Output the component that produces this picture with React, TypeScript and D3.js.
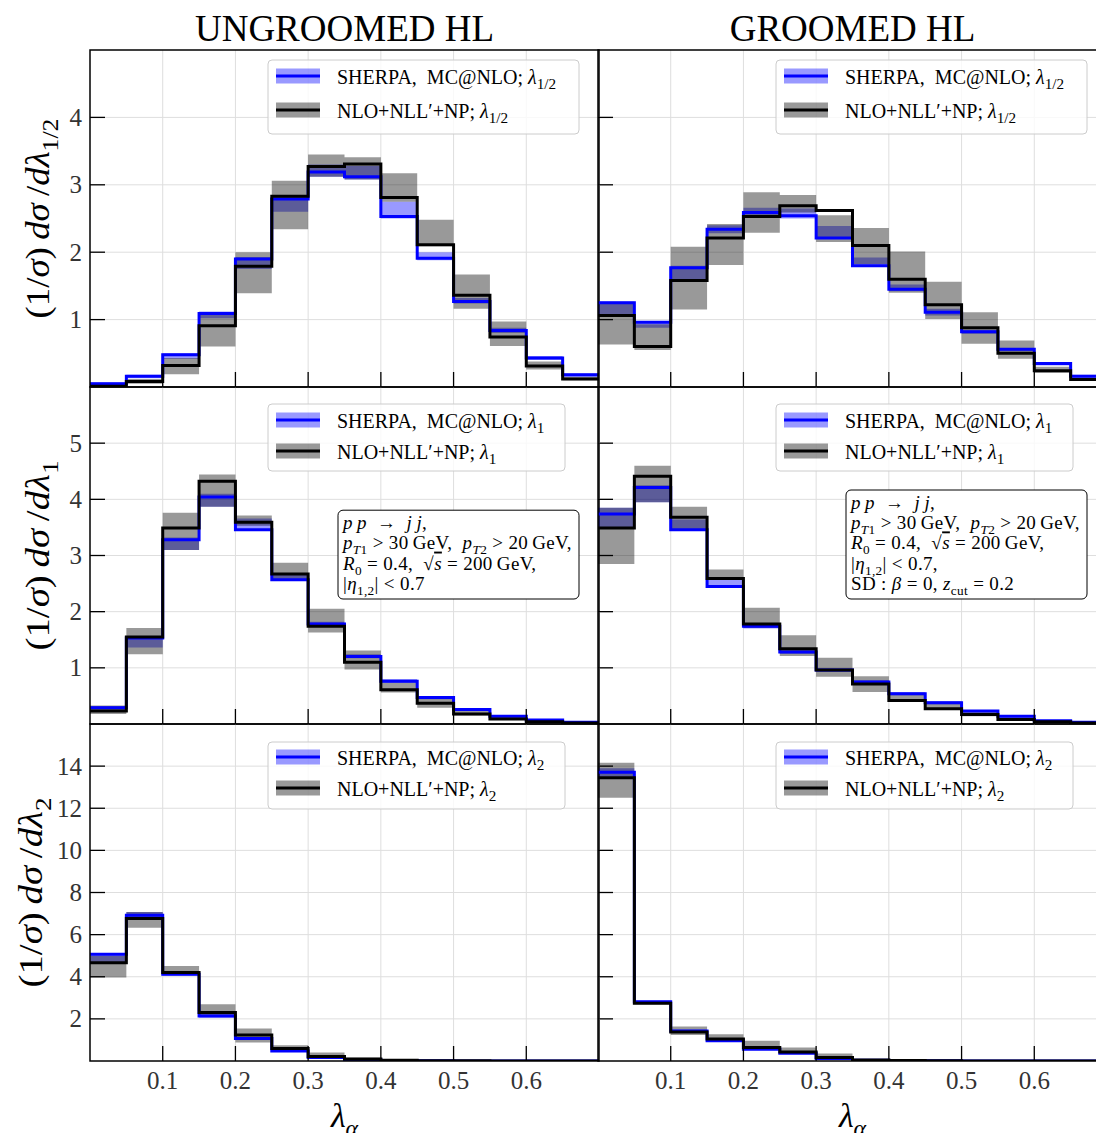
import React from 'react';
import * as d3 from 'd3';

// ---------- data ----------
const binEdges = [0, 0.05, 0.1, 0.15, 0.2, 0.25, 0.3, 0.35, 0.4, 0.45, 0.5, 0.55, 0.6, 0.65, 0.7];
const xTickValues = [0.1, 0.2, 0.3, 0.4, 0.5, 0.6];
const xTickLabels = ['0.1', '0.2', '0.3', '0.4', '0.5', '0.6'];
const columnTitles = ['UNGROOMED HL', 'GROOMED HL'];
const angleSubs = ['1/2', '1', '2'];
const yMaxByRow = [5, 6, 16];
const yTicksHalf = [1, 2, 3, 4];
const yTicksOne = [1, 2, 3, 4, 5];
const yTicksTwo = [2, 4, 6, 8, 10, 12, 14];

// Ungroomed, lambda 1/2
const ugHalfMc = [0.05, 0.16, 0.48, 1.09, 1.9, 2.79, 3.19, 3.12, 2.53, 1.91, 1.27, 0.84, 0.43, 0.18];
const ugHalfMcLo = [0.03, 0.13, 0.42, 1.02, 1.75, 2.6, 3.12, 3.08, 2.5, 1.88, 1.24, 0.8, 0.4, 0.15];
const ugHalfMcHi = [0.07, 0.18, 0.5, 1.12, 1.93, 2.82, 3.3, 3.28, 2.75, 2.0, 1.32, 0.88, 0.46, 0.2];
const ugHalfNll = [0.01, 0.08, 0.32, 0.91, 1.79, 2.83, 3.27, 3.31, 2.81, 2.11, 1.36, 0.74, 0.31, 0.12];
const ugHalfNllLo = [0.0, 0.05, 0.19, 0.6, 1.39, 2.34, 3.12, 3.08, 2.75, 2.09, 1.16, 0.61, 0.26, 0.1];
const ugHalfNllHi = [0.03, 0.12, 0.43, 1.07, 2.0, 3.06, 3.45, 3.41, 3.17, 2.48, 1.67, 0.97, 0.38, 0.15];

// Groomed, lambda 1/2
const gHalfMc = [1.25, 0.96, 1.77, 2.34, 2.59, 2.54, 2.21, 1.8, 1.45, 1.11, 0.82, 0.56, 0.35, 0.16];
const gHalfMcLo = [1.06, 0.88, 1.6, 2.28, 2.52, 2.5, 2.21, 1.8, 1.42, 1.06, 0.79, 0.53, 0.32, 0.14];
const gHalfMcHi = [1.27, 0.98, 1.8, 2.4, 2.66, 2.65, 2.39, 1.92, 1.52, 1.16, 0.85, 0.58, 0.37, 0.18];
const gHalfNll = [1.06, 0.6, 1.58, 2.21, 2.53, 2.69, 2.62, 2.1, 1.6, 1.22, 0.88, 0.5, 0.24, 0.11];
const gHalfNllLo = [0.63, 0.55, 1.15, 1.81, 2.29, 2.59, 2.15, 1.82, 1.4, 1.01, 0.64, 0.42, 0.21, 0.09];
const gHalfNllHi = [1.24, 0.93, 2.08, 2.42, 2.89, 2.85, 2.55, 2.36, 2.01, 1.56, 1.11, 0.69, 0.3, 0.14];

// Ungroomed, lambda 1
const ugOneMc = [0.29, 1.53, 3.28, 4.04, 3.46, 2.57, 1.78, 1.2, 0.76, 0.47, 0.26, 0.14, 0.07, 0.03];
const ugOneMcLo = [0.26, 1.36, 3.1, 3.87, 3.46, 2.55, 1.74, 1.17, 0.73, 0.44, 0.24, 0.12, 0.06, 0.02];
const ugOneMcHi = [0.32, 1.56, 3.32, 4.1, 3.66, 2.67, 1.82, 1.24, 0.8, 0.5, 0.28, 0.16, 0.08, 0.04];
const ugOneNll = [0.23, 1.55, 3.49, 4.32, 3.59, 2.67, 1.74, 1.1, 0.61, 0.37, 0.18, 0.09, 0.04, 0.02];
const ugOneNllLo = [0.18, 1.24, 3.1, 3.87, 3.53, 2.57, 1.63, 0.97, 0.56, 0.29, 0.15, 0.07, 0.03, 0.01];
const ugOneNllHi = [0.33, 1.71, 3.76, 4.44, 3.71, 2.87, 2.05, 1.31, 0.74, 0.47, 0.27, 0.14, 0.06, 0.03];

// Groomed, lambda 1
const gOneMc = [3.74, 4.21, 3.46, 2.45, 1.74, 1.28, 0.96, 0.75, 0.54, 0.38, 0.23, 0.14, 0.06, 0.03];
const gOneMcLo = [3.5, 3.95, 3.46, 2.45, 1.7, 1.25, 0.93, 0.72, 0.51, 0.35, 0.21, 0.12, 0.05, 0.02];
const gOneMcHi = [3.85, 4.25, 3.64, 2.6, 1.78, 1.32, 0.99, 0.78, 0.57, 0.41, 0.25, 0.16, 0.07, 0.04];
const gOneNll = [3.49, 4.41, 3.68, 2.59, 1.78, 1.34, 0.96, 0.71, 0.42, 0.27, 0.17, 0.08, 0.04, 0.02];
const gOneNllLo = [2.85, 3.95, 3.46, 2.57, 1.71, 1.21, 0.84, 0.57, 0.39, 0.25, 0.14, 0.07, 0.03, 0.01];
const gOneNllHi = [3.85, 4.6, 3.87, 2.75, 2.07, 1.58, 1.18, 0.85, 0.53, 0.37, 0.22, 0.12, 0.05, 0.03];

// Ungroomed, lambda 2
const ugTwoMc = [5.07, 6.92, 4.12, 2.14, 1.07, 0.48, 0.17, 0.06, 0.02, 0.01, 0.0, 0.0, 0.0, 0.0];
const ugTwoMcLo = [4.67, 6.75, 4.05, 2.05, 1.0, 0.44, 0.15, 0.05, 0.01, 0.0, 0.0, 0.0, 0.0, 0.0];
const ugTwoMcHi = [5.12, 7.07, 4.22, 2.24, 1.12, 0.52, 0.19, 0.07, 0.03, 0.01, 0.0, 0.0, 0.0, 0.0];
const ugTwoNll = [4.67, 6.76, 4.2, 2.3, 1.23, 0.59, 0.21, 0.09, 0.03, 0.01, 0.01, 0.0, 0.0, 0.0];
const ugTwoNllLo = [3.96, 6.33, 4.12, 2.14, 0.88, 0.43, 0.12, 0.05, 0.02, 0.0, 0.0, 0.0, 0.0, 0.0];
const ugTwoNllHi = [5.0, 7.07, 4.51, 2.7, 1.54, 0.75, 0.4, 0.15, 0.05, 0.02, 0.01, 0.0, 0.0, 0.0];

// Groomed, lambda 2
const gTwoMc = [13.71, 2.81, 1.43, 0.96, 0.56, 0.37, 0.12, 0.03, 0.01, 0.01, 0.0, 0.0, 0.0, 0.0];
const gTwoMcLo = [13.5, 2.75, 1.38, 0.92, 0.52, 0.34, 0.1, 0.02, 0.0, 0.0, 0.0, 0.0, 0.0, 0.0];
const gTwoMcHi = [13.9, 2.86, 1.48, 1.0, 0.6, 0.4, 0.14, 0.04, 0.02, 0.01, 0.0, 0.0, 0.0, 0.0];
const gTwoNll = [13.45, 2.74, 1.38, 1.04, 0.64, 0.43, 0.17, 0.05, 0.02, 0.01, 0.0, 0.0, 0.0, 0.0];
const gTwoNllLo = [12.5, 2.7, 1.23, 0.96, 0.56, 0.37, 0.12, 0.03, 0.01, 0.0, 0.0, 0.0, 0.0, 0.0];
const gTwoNllHi = [14.16, 2.85, 1.64, 1.27, 0.96, 0.64, 0.36, 0.08, 0.03, 0.01, 0.0, 0.0, 0.0, 0.0];

// ---------- layout / style ----------
const W = 1096;
const H = 1133;
const SERIF = "'Liberation Serif', 'DejaVu Serif', serif";
const colX = [90, 598];
const rowY = [50, 387, 724];
const panelW = 509;
const panelH = 337;
const BLUE = '#0000ff';

type Seg = [string, string?];

function MathText({ x, y, segs, size, anchor, transform, dominant, textLength, lengthAdjust, letterSpacing, subRatio }: any) {
  const subShift = size * 0.26;
  const ratio = subRatio || 0.7;
  let prev = 0;
  return (
    <text
      x={x}
      y={y}
      fontSize={size}
      fontFamily={SERIF}
      textAnchor={anchor}
      transform={transform}
      dominantBaseline={dominant}
      textLength={textLength}
      lengthAdjust={lengthAdjust}
      letterSpacing={letterSpacing}
      fill="#000"
      style={{ whiteSpace: 'pre' }}
    >
      {segs.map((s: Seg, i: number) => {
        const t = s[0];
        const st = s[1] || '';
        const isSub = st.includes('s');
        const shift = isSub ? subShift : 0;
        const dy = shift - prev;
        prev = shift;
        return (
          <tspan
            key={i}
            dy={dy !== 0 ? dy : undefined}
            fontSize={isSub ? size * ratio : undefined}
            fontStyle={st.includes('i') ? 'italic' : undefined}
            textDecoration={st.includes('o') ? 'overline' : undefined}
          >
            {t}
          </tspan>
        );
      })}
    </text>
  );
}

const seriesByPanel = [
  [
    { mc: ugHalfMc, mcLo: ugHalfMcLo, mcHi: ugHalfMcHi, nll: ugHalfNll, nllLo: ugHalfNllLo, nllHi: ugHalfNllHi },
    { mc: gHalfMc, mcLo: gHalfMcLo, mcHi: gHalfMcHi, nll: gHalfNll, nllLo: gHalfNllLo, nllHi: gHalfNllHi },
  ],
  [
    { mc: ugOneMc, mcLo: ugOneMcLo, mcHi: ugOneMcHi, nll: ugOneNll, nllLo: ugOneNllLo, nllHi: ugOneNllHi },
    { mc: gOneMc, mcLo: gOneMcLo, mcHi: gOneMcHi, nll: gOneNll, nllLo: gOneNllLo, nllHi: gOneNllHi },
  ],
  [
    { mc: ugTwoMc, mcLo: ugTwoMcLo, mcHi: ugTwoMcHi, nll: ugTwoNll, nllLo: ugTwoNllLo, nllHi: ugTwoNllHi },
    { mc: gTwoMc, mcLo: gTwoMcLo, mcHi: gTwoMcHi, nll: gTwoNll, nllLo: gTwoNllLo, nllHi: gTwoNllHi },
  ],
];
const yTicksByRow = [yTicksHalf, yTicksOne, yTicksTwo];

// legend geometry per row (offsets from panel top)
const legendTop = [10, 17, 18];
const legendHeight = [74, 67, 67];
const legendWidth = [311, 297, 297];
const legendLine1 = [16, 16, 15];
const legendLine2 = [50, 47, 46];

const infoLeft: Seg[][] = [
  [['p\u2009p', 'i'], ['  \u2192  ', ''], ['j\u2009j', 'i'], [',', '']],
  [['p', 'i'], ['T', 'si'], ['1', 's'], [' > 30\u2009GeV,  ', ''], ['p', 'i'], ['T', 'si'], ['2', 's'], [' > 20\u2009GeV,', '']],
  [['R', 'i'], ['0', 's'], [' = 0.4,  \u221A', ''], ['s', 'io'], [' = 200\u2009GeV,', '']],
  [['|', ''], ['\u03B7', 'i'], ['1,2', 's'], ['| < 0.7', '']],
];
const infoRight: Seg[][] = [
  [['p\u2009p', 'i'], ['  \u2192  ', ''], ['j\u2009j', 'i'], [',', '']],
  [['p', 'i'], ['T', 'si'], ['1', 's'], [' > 30\u2009GeV,  ', ''], ['p', 'i'], ['T', 'si'], ['2', 's'], [' > 20\u2009GeV,', '']],
  [['R', 'i'], ['0', 's'], [' = 0.4,  \u221A', ''], ['s', 'io'], [' = 200\u2009GeV,', '']],
  [['|', ''], ['\u03B7', 'i'], ['1,2', 's'], ['| < 0.7,', '']],
  [['SD : ', ''], ['\u03B2', 'i'], [' = 0, ', ''], ['z', 'i'], ['cut', 's'], [' = 0.2', '']],
];

function stepPoints(vals: number[]) {
  const pts = vals.map((v, i) => [binEdges[i], v] as [number, number]);
  pts.push([binEdges[binEdges.length - 1], vals[vals.length - 1]]);
  return pts;
}

function Panel({ row, col }: { row: number; col: number }) {
  const x0 = colX[col];
  const y0 = rowY[row];
  const data = seriesByPanel[row][col];
  const yMax = yMaxByRow[row];
  const yTicks = yTicksByRow[row];
  const xs = d3.scaleLinear().domain([0, 0.7]).range([x0, x0 + panelW]);
  const ys = d3.scaleLinear().domain([0, yMax]).range([y0 + panelH, y0]);

  const line = d3
    .line<[number, number]>()
    .x((d) => xs(d[0]))
    .y((d) => ys(d[1]))
    .curve(d3.curveStepAfter);
  const band = (lo: number[], hi: number[]) => {
    const pts = lo.map((v, i) => ({ x: binEdges[i], lo: v, hi: hi[i] }));
    pts.push({ x: binEdges[binEdges.length - 1], lo: lo[lo.length - 1], hi: hi[hi.length - 1] });
    return d3
      .area<{ x: number; lo: number; hi: number }>()
      .x((d) => xs(d.x))
      .y0((d) => ys(d.lo))
      .y1((d) => ys(d.hi))
      .curve(d3.curveStepAfter)(pts) as string;
  };
  const clipId = `clip-${row}-${col}`;
  const sub = angleSubs[row];
  const lx = x0 + 178;
  const ly = y0 + legendTop[row];

  return (
    <g>
      <defs>
        <clipPath id={clipId}>
          <rect x={x0} y={y0} width={panelW} height={panelH} />
        </clipPath>
      </defs>
      {/* grid */}
      <g stroke="#dedede" strokeWidth={1}>
        {xTickValues.map((t) => (
          <line key={'gx' + t} x1={xs(t)} x2={xs(t)} y1={y0} y2={y0 + panelH} />
        ))}
        {yTicks.map((t) => (
          <line key={'gy' + t} x1={x0} x2={x0 + panelW} y1={ys(t)} y2={ys(t)} />
        ))}
      </g>
      <g clipPath={`url(#${clipId})`}>
        <path d={band(data.mcLo, data.mcHi)} fill={BLUE} fillOpacity={0.4} />
        <path d={band(data.nllLo, data.nllHi)} fill="#000" fillOpacity={0.4} />
        <path d={line(stepPoints(data.mc)) as string} fill="none" stroke={BLUE} strokeWidth={3} />
        <path d={line(stepPoints(data.nll)) as string} fill="none" stroke="#000" strokeWidth={3} />
      </g>
      {/* ticks */}
      <g stroke="#000" strokeWidth={1.3}>
        {xTickValues.map((t) => (
          <line key={'tx' + t} x1={xs(t)} x2={xs(t)} y1={y0 + panelH} y2={y0 + panelH - 15} />
        ))}
        {yTicks.map((t) => (
          <line key={'ty' + t} x1={x0} x2={x0 + 15} y1={ys(t)} y2={ys(t)} />
        ))}
      </g>
      <rect x={x0} y={y0} width={panelW} height={panelH} fill="none" stroke="#000" strokeWidth={1.5} />
      {/* tick labels */}
      {col === 0 &&
        yTicks.map((t) => (
          <text
            key={'ly' + t}
            x={x0 - 8}
            y={ys(t)}
            textAnchor="end"
            dominantBaseline="central"
            fontFamily={SERIF}
            fontSize={25}
            fill="#333"
          >
            {t}
          </text>
        ))}
      {row === 2 &&
        xTickValues.map((t, i) => (
          <text key={'lx' + t} x={xs(t)} y={y0 + panelH + 28} textAnchor="middle" fontFamily={SERIF} fontSize={25} fill="#333">
            {xTickLabels[i]}
          </text>
        ))}
      {/* legend */}
      <rect
        x={lx}
        y={ly}
        width={legendWidth[row]}
        height={legendHeight[row]}
        rx={4}
        fill="#fff"
        fillOpacity={0.8}
        stroke="#cccccc"
        strokeWidth={1}
      />
      <rect x={lx + 8} y={ly + legendLine1[row] - 7.5} width={44} height={15} fill={BLUE} fillOpacity={0.4} />
      <line x1={lx + 8} x2={lx + 52} y1={ly + legendLine1[row]} y2={ly + legendLine1[row]} stroke={BLUE} strokeWidth={3} />
      <rect x={lx + 8} y={ly + legendLine2[row] - 7.5} width={44} height={15} fill="#000" fillOpacity={0.4} />
      <line x1={lx + 8} x2={lx + 52} y1={ly + legendLine2[row]} y2={ly + legendLine2[row]} stroke="#000" strokeWidth={3} />
      <MathText
        x={lx + 69}
        y={ly + legendLine1[row] + 8}
        size={20}
        subRatio={0.76}
        segs={[['SHERPA,\u00A0 MC@NLO; ', ''], ['\u03BB', 'i'], [sub, 's']]}
      />
      <MathText
        x={lx + 69}
        y={ly + legendLine2[row] + 8}
        size={20}
        subRatio={0.76}
        segs={[['NLO+NLL\u2032+NP; ', ''], ['\u03BB', 'i'], [sub, 's']]}
      />
      {/* info box */}
      {row === 1 && (
        <g>
          {(() => {
            const lines = col === 0 ? infoLeft : infoRight;
            const bx = x0 + 248;
            const bw = 241;
            const bottom = y0 + 212;
            const lineH = 20.2;
            const top = bottom - (lines.length * lineH + 8);
            return (
              <g>
                <rect x={bx} y={top} width={bw} height={bottom - top} rx={5} fill="#fff" stroke="#000" strokeWidth={1} />
                {lines.map((segs, i) => (
                  <MathText key={i} x={bx + 5} y={top + 19 + i * lineH} size={19} letterSpacing={0.35} segs={segs} />
                ))}
              </g>
            );
          })()}
        </g>
      )}
    </g>
  );
}

const yLabelBaseline = [49, 49, 42];

export default function App() {
  const rows = [0, 1, 2];
  const cols = [0, 1];
  return (
    <svg
      width={W}
      height={H}
      viewBox={`0 0 ${W} ${H}`}
      style={{ position: 'absolute', left: 0, top: 0, background: '#fff' }}
    >
      <rect x={0} y={0} width={W} height={H} fill="#fff" />
      {rows.map((r) => cols.map((c) => <Panel key={`${r}-${c}`} row={r} col={c} />))}
      {cols.map((c) => (
        <text
          key={'title' + c}
          x={colX[c] + panelW / 2}
          y={41}
          textAnchor="middle"
          fontFamily={SERIF}
          fontSize={37}
          fill="#000"
        >
          {columnTitles[c]}
        </text>
      ))}
      {rows.map((r) => (
        <MathText
          key={'ylab' + r}
          x={0}
          y={0}
          size={34}
          anchor="middle"
          textLength={r === 0 ? 200 : 190}
          lengthAdjust="spacingAndGlyphs"
          transform={`translate(${yLabelBaseline[r]}, ${rowY[r] + panelH / 2}) rotate(-90)`}
          segs={[
            ['(1/', ''],
            ['\u03C3', 'i'],
            [')\u2009', ''],
            ['d\u03C3', 'i'],
            ['\u2009/', ''],
            ['d\u03BB', 'i'],
            [angleSubs[r], 's'],
          ]}
        />
      ))}
      {cols.map((c) => (
        <MathText
          key={'xlab' + c}
          x={colX[c] + panelW / 2}
          y={1127}
          size={34}
          anchor="middle"
          segs={[
            ['\u03BB', 'i'],
            ['\u03B1', 'si'],
          ]}
        />
      ))}
    </svg>
  );
}
